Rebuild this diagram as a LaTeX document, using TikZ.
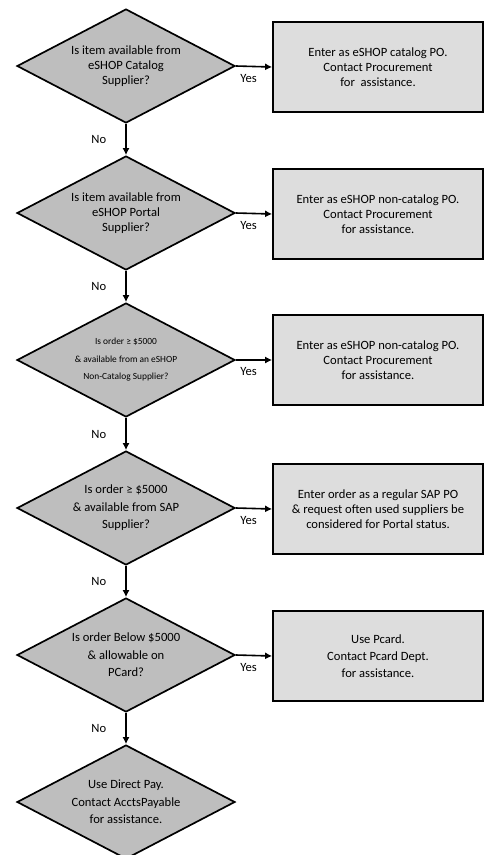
\documentclass[tikz,border=0pt]{standalone}
\usepackage{fontspec}
\setmainfont{Carlito}
\usetikzlibrary{shapes.geometric,arrows.meta,positioning}
\definecolor{decisiongray}{RGB}{190,190,190}
\definecolor{actiongray}{RGB}{221,221,221}
\tikzset{
  decision/.style={draw, diamond, fill=decisiongray, line width=1.7pt, aspect=1.9,
    inner sep=0pt, minimum width=218pt, minimum height=114pt, align=center,
    font=\fontsize{12.6}{15}\selectfont},
  tall/.style={font=\fontsize{12.6}{17.5}\selectfont},
  action/.style={draw, rectangle, fill=actiongray, line width=1.7pt,
    minimum width=210pt, minimum height=90pt, align=center,
    font=\fontsize{12.6}{15}\selectfont},
  flow/.style={-{Latex[length=7pt,width=7pt]}, line width=1.6pt},
  answer/.style={inner sep=0pt, font=\fontsize{12.6}{14}\selectfont}
}

\begin{document}
\begin{tikzpicture}[x=1pt,y=-1pt]
        \useasboundingbox (0,0) rectangle (487,855);

        % questions down the left
        \node[decision] (q1) at (126,66) {Is item available from\\eSHOP Catalog\\Supplier?};
        \node[decision] (q2) at (126,213) {Is item available from\\eSHOP Portal\\Supplier?};
        \node[decision, font=\fontsize{9.4}{17.5}\selectfont] (q3) at (126,360) {Is order ≥ \$5000\\\& available from an eSHOP\\Non-Catalog Supplier?};
        \node[decision, tall] (q4) at (126,508) {Is order ≥ \$5000\\\& available from SAP\\Supplier?};
        \node[decision, tall] (q5) at (126,655) {Is order Below \$5000\\\& allowable on\\PCard?};
        \node[decision, tall] (q6) at (126,802) {Use Direct Pay.\\Contact AcctsPayable\\for assistance.};

        % actions on the right
        \node[action] (a1) at (378,67) {Enter as eSHOP catalog PO.\\Contact Procurement\\for\ \ assistance.};
        \node[action] (a2) at (378,214) {Enter as eSHOP non-catalog PO.\\Contact Procurement\\for assistance.};
        \node[action] (a3) at (378,360) {Enter as eSHOP non-catalog PO.\\Contact Procurement\\for assistance.};
        \node[action] (a4) at (378,509) {Enter order as a regular SAP PO\\\& request often used suppliers be\\considered for Portal status.};
        \node[action, font=\fontsize{12.6}{17}\selectfont] (a5) at (378,656) {Use Pcard.\\Contact Pcard Dept.\\for assistance.};

        % yes / no
        \foreach \i in {1,...,5} {
            \draw[flow] (q\i.east) -- node[answer, below=7pt, pos=0.35] (yes\i) {Yes} (a\i.west);
        }
        \foreach \i/\j in {1/2,2/3,3/4,4/5,5/6} {
            \draw[flow] (q\i.south) -- node[answer, left=19pt, pos=0.5] (no\i) {No} (q\j.north);
        }
    \end{tikzpicture}
\end{document}
